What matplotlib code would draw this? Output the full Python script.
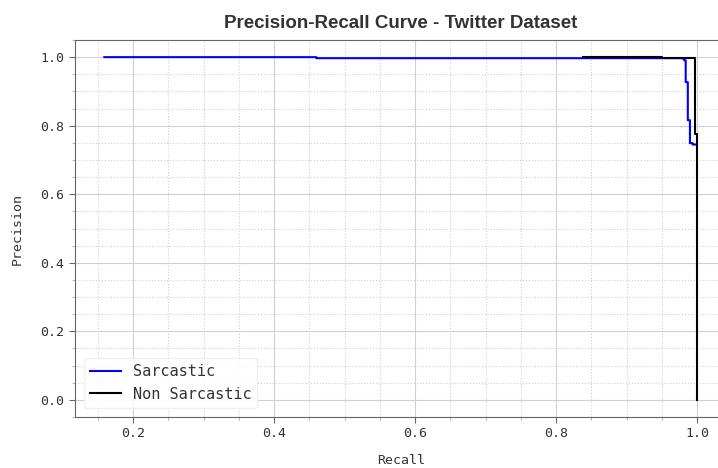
import matplotlib.pyplot as plt
from matplotlib.ticker import MultipleLocator

# Sarcastic curve (recall, precision)
sarc_recall = [0.159, 0.46, 0.46, 0.980, 0.982, 0.984, 0.984, 0.987, 0.987, 0.990, 0.990, 0.994, 0.994, 0.999]
sarc_prec = [1.0, 1.0, 0.997, 0.997, 0.991, 0.991, 0.927, 0.927, 0.816, 0.816, 0.749, 0.749, 0.745, 0.745]

# Non sarcastic curve
non_recall = [0.838, 0.95, 0.95, 0.997, 0.997, 1.0, 1.0]
non_prec = [1.0, 1.0, 0.998, 0.998, 0.775, 0.775, 0.0]

fig = plt.figure(figsize=(7.18, 4.68), dpi=100)
# right edge sits past the figure, as in the cropped original
ax = fig.add_axes([0.104, 0.109, 0.908, 0.8055])

ax.plot(sarc_recall, sarc_prec, color='blue', lw=1.5, label='Sarcastic')
ax.plot(non_recall, non_prec, color='black', lw=1.5, label='Non Sarcastic')

ax.xaxis.set_major_locator(MultipleLocator(0.2))
ax.yaxis.set_major_locator(MultipleLocator(0.2))
ax.xaxis.set_minor_locator(MultipleLocator(0.05))
ax.yaxis.set_minor_locator(MultipleLocator(0.05))
ax.grid(which='major', color='#d0d0d0', lw=0.8)
ax.grid(which='minor', color='#d0d0d0', lw=0.8, ls=':')
ax.set_axisbelow(True)

for s in ax.spines.values():
    s.set_color('#666666')
ax.spines['right'].set_visible(False)
ax.tick_params(which='major', length=4, color='#666666', labelcolor='#333333', labelsize=9.5)
ax.tick_params(which='minor', length=2, color='#aaaaaa')
for lab in ax.get_xticklabels() + ax.get_yticklabels():
    lab.set_family('DejaVu Sans Mono')

ax.set_xlabel('Recall', family='DejaVu Sans Mono', fontsize=9.5, color='#333333', labelpad=10)
ax.set_ylabel('Precision', family='DejaVu Sans Mono', fontsize=9.5, color='#333333', labelpad=12)
ax.set_title('Precision-Recall Curve - Twitter Dataset', family='Liberation Sans',
             fontweight='bold', fontsize=13.5, color='#333333', pad=9)

leg = ax.legend(loc='lower left', prop={'family': 'DejaVu Sans Mono', 'size': 11},
                frameon=True, fancybox=True, framealpha=0.9, edgecolor='#eeeeee',
                borderaxespad=0.6)
for t in leg.get_texts():
    t.set_color('#333333')

fig.savefig('out.png', dpi=100)
